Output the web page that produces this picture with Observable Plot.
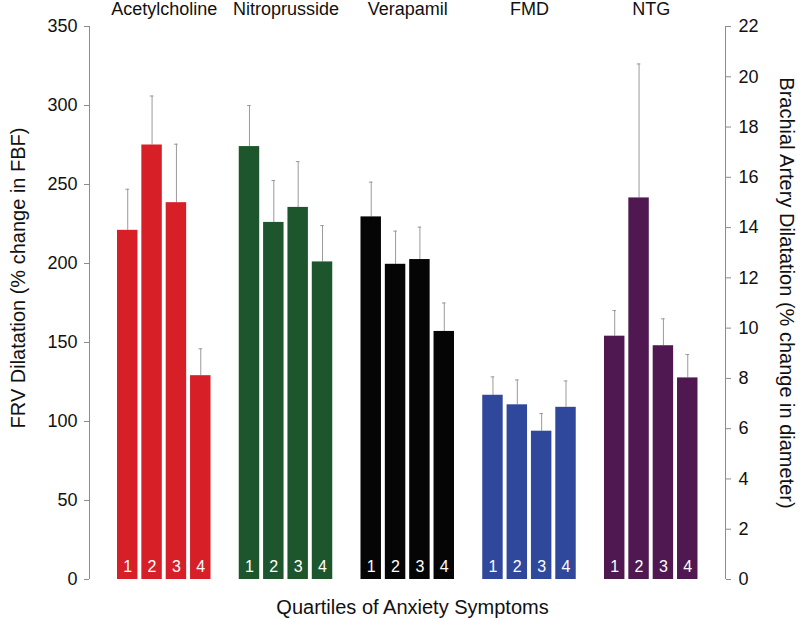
<!DOCTYPE html>
<html>
<head>
<meta charset="utf-8">
<script src="https://cdn.jsdelivr.net/npm/d3@7"></script>
<script src="https://cdn.jsdelivr.net/npm/@observablehq/plot@0.6"></script>
<style>
  html, body { margin: 0; padding: 0; background: #fff; }
</style>
</head>
<body>
<div id="chart"></div>
<script>
// ---- data ----
const groups = ["Acetylcholine", "Nitroprusside", "Verapamil", "FMD", "NTG"];
const groupAxis = ["left", "left", "left", "right", "right"];
const groupColors = ["#d61f27", "#1d562c", "#050505", "#30489c", "#4f1851"];
const quartiles = ["1", "2", "3", "4"];

const acetylcholineMean = [221, 275, 238.5, 129];
const acetylcholineSE   = [26, 31, 37, 17];
const nitroprussideMean = [274, 226, 235.5, 201];
const nitroprussideSE   = [26, 26.5, 29, 23];
const verapamilMean     = [229.5, 199.5, 202.5, 157];
const verapamilSE       = [22, 21, 20.5, 18];
const fmdMean           = [7.33, 6.95, 5.9, 6.85];
const fmdSE             = [0.73, 0.99, 0.7, 1.05];
const ntgMean           = [9.68, 15.18, 9.3, 8.02];
const ntgSE             = [1.02, 5.33, 1.07, 0.93];

const leftTicks = [0, 50, 100, 150, 200, 250, 300, 350];
const rightTicks = [0, 2, 4, 6, 8, 10, 12, 14, 16, 18, 20, 22];

const leftLabel = "FRV Dilatation (% change in FBF)";
const rightLabel = "Brachial Artery Dilatation (% change in diameter)";
const xLabel = "Quartiles of Anxiety Symptoms";

// ---- build table ----
const leftMax = 350, rightMax = 22;
const k = leftMax / rightMax; // right-axis units -> left-axis units
const means = [acetylcholineMean, nitroprussideMean, verapamilMean, fmdMean, ntgMean];
const ses = [acetylcholineSE, nitroprussideSE, verapamilSE, fmdSE, ntgSE];
const slotsPerGroup = quartiles.length + 1; // one empty slot between groups
const rows = [];
groups.forEach((g, gi) => {
  const f = groupAxis[gi] === "right" ? k : 1;
  quartiles.forEach((q, qi) => {
    rows.push({
      group: g,
      q,
      pos: gi * slotsPerGroup + qi,
      yv: means[gi][qi] * f,
      top: (means[gi][qi] + ses[gi][qi]) * f
    });
  });
});
const halfBar = 0.42, halfCap = 0.075;
const xDomain = [-1.57, 24.55];
const font = "'Liberation Sans', Arial, Helvetica, sans-serif";
const axisGrey = "#8c8c8c";

const chart = Plot.plot({
  width: 800,
  height: 619,
  marginLeft: 89,
  marginRight: 75,
  marginTop: 26,
  marginBottom: 40,
  style: { fontFamily: font, background: "white", color: "#111", overflow: "visible" },
  x: { type: "linear", domain: xDomain, axis: null },
  y: { domain: [0, leftMax], axis: null },
  color: { domain: groups, range: groupColors },
  marks: [
    // axis lines
    Plot.ruleX([xDomain[0]], { y1: () => 0, y2: () => leftMax, stroke: axisGrey }),
    Plot.ruleX([xDomain[1]], { y1: () => 0, y2: () => leftMax, stroke: axisGrey }),
    Plot.axisY(leftTicks, {
      anchor: "left", label: null, tickSize: 5, tickPadding: 7,
      fontSize: 18, stroke: axisGrey, fill: "#111"
    }),
    Plot.axisY(rightTicks.map(v => v * k), {
      anchor: "right", label: null, tickSize: 5, tickPadding: 8,
      tickFormat: d => String(Math.round(d / k)),
      fontSize: 18, stroke: axisGrey, fill: "#111"
    }),
    // error bars
    Plot.ruleX(rows, { x: d => d.pos, y1: d => d.yv, y2: d => d.top, stroke: "#9a9a9a", strokeWidth: 1 }),
    Plot.ruleY(rows, { y: d => d.top, x1: d => d.pos - halfCap, x2: d => d.pos + halfCap, stroke: "#9a9a9a", strokeWidth: 1 }),
    // bars
    Plot.rectY(rows, {
      x1: d => d.pos - halfBar, x2: d => d.pos + halfBar,
      y1: () => 0, y2: d => d.yv, fill: d => d.group
    }),
    // quartile numbers
    Plot.text(rows, {
      x: d => d.pos, y: () => 0, text: d => d.q, fill: "white",
      fontSize: 16, dy: -13, lineAnchor: "middle"
    }),
    // group titles
    Plot.text(groups, {
      x: (d, i) => i * slotsPerGroup + (quartiles.length - 1) / 2,
      text: d => d, frameAnchor: "top", dy: -17, lineAnchor: "middle",
      fontSize: 18, fill: "#111"
    }),
    // axis titles
    Plot.text([leftLabel], {
      text: d => d, frameAnchor: "left", textAnchor: "middle", rotate: -90, dx: -71, dy: -25,
      lineAnchor: "middle", fontSize: 20, fill: "#111"
    }),
    Plot.text([rightLabel], {
      text: d => d, frameAnchor: "right", textAnchor: "middle", rotate: 90, dx: 61, dy: -10,
      lineAnchor: "middle", fontSize: 20, fill: "#111"
    }),
    Plot.text([xLabel], {
      text: d => d, frameAnchor: "bottom", dx: 5, dy: 28,
      lineAnchor: "middle", fontSize: 20, fill: "#111"
    })
  ]
});
document.getElementById("chart").appendChild(chart);
</script>
</body>
</html>
